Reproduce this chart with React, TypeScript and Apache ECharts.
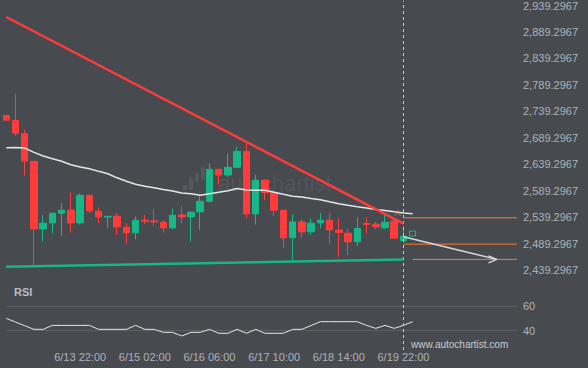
import React, { useEffect, useRef } from 'react';
import * as echarts from 'echarts';

// ---- Data ----
const opens = [2731.7, 2722.2, 2697.2, 2645.1, 2517.6, 2528.9, 2547.2, 2552.8, 2528.9, 2581.1, 2550.9, 2539.8, 2541.5, 2520.8, 2510.1, 2534.0, 2532.7, 2530.2, 2519.5, 2544.0, 2540.2, 2549.6, 2569.8, 2630.0, 2619.3, 2633.8, 2663.9, 2545.9, 2609.3, 2586.1, 2552.8, 2500.7, 2530.8, 2512.0, 2528.9, 2534.0, 2515.2, 2509.5, 2493.1, 2527.8, 2526.5, 2519.5, 2532.1, 2495.0];
const closes = [2722.8, 2698.3, 2645.6, 2517.6, 2528.3, 2547.2, 2552.8, 2528.9, 2581.1, 2551.5, 2540.2, 2541.3, 2521.4, 2510.1, 2534.0, 2532.1, 2530.8, 2519.5, 2543.4, 2540.2, 2549.0, 2569.8, 2630.0, 2619.3, 2633.8, 2663.9, 2545.9, 2609.3, 2586.1, 2552.8, 2500.7, 2530.8, 2512.0, 2528.3, 2534.0, 2515.7, 2510.8, 2493.1, 2518.4, 2525.9, 2521.4, 2530.2, 2500.1, 2503.9];
const lows = [2722.0, 2692.7, 2618.1, 2446.1, 2493.9, 2509.0, 2504.4, 2510.8, 2525.9, 2547.7, 2528.3, 2519.5, 2506.3, 2489.4, 2497.7, 2526.5, 2523.3, 2510.8, 2516.5, 2528.3, 2493.9, 2515.7, 2567.3, 2601.2, 2614.9, 2633.0, 2537.2, 2525.9, 2571.6, 2542.1, 2481.8, 2455.5, 2500.7, 2506.3, 2518.4, 2489.4, 2464.9, 2468.1, 2484.5, 2509.0, 2517.0, 2517.0, 2498.8, 2495.0];
const highs = [2732.0, 2772.5, 2704.7, 2646.0, 2543.4, 2547.5, 2566.0, 2586.1, 2584.3, 2581.5, 2557.9, 2541.5, 2547.2, 2528.3, 2541.0, 2543.4, 2554.1, 2534.0, 2556.0, 2560.3, 2550.4, 2581.1, 2641.3, 2630.5, 2659.6, 2672.7, 2681.4, 2620.0, 2610.0, 2586.5, 2553.0, 2545.3, 2535.9, 2537.2, 2547.2, 2548.5, 2537.2, 2518.4, 2539.1, 2539.1, 2531.5, 2543.4, 2537.8, 2522.0];
// forming candle (open, close, low, high)
const formingCandle = [2504.4, 2513.3, 2504.4, 2513.3];

const maValues = [2670.8, 2671.4, 2670.1, 2662.0, 2655.2, 2650.0, 2645.2, 2638.7, 2634.3, 2631.1, 2626.2, 2621.7, 2614.0, 2607.4, 2601.8, 2598.0, 2595.2, 2592.0, 2589.0, 2585.2, 2584.1, 2581.1, 2583.9, 2586.7, 2589.5, 2593.7, 2591.2, 2590.5, 2590.5, 2586.7, 2582.9, 2579.2, 2577.7, 2574.8, 2572.6, 2568.8, 2565.1, 2562.2, 2559.4, 2557.1, 2554.1, 2552.3, 2549.8, 2547.7, 2546.0];

const rsiValues = [50, 47, 44, 41.1, 41.1, 44.3, 44.3, 44.3, 44.3, 44.3, 41.1, 41.1, 41.1, 41.1, 44.3, 41.1, 41.1, 38.7, 38.7, 35.7, 38.7, 38.7, 41.1, 37.9, 37.9, 41.1, 37.9, 41.1, 37.9, 37.9, 37.9, 41.1, 41.1, 44.2, 47.3, 47.3, 47.3, 47.3, 47.3, 44.3, 41.9, 44.3, 41.9, 44.3, 47.3];

const resistanceEnds = [2917.6, 2527.4];
const supportEnds = [2446.1, 2459.6];
const keyLevels = [2538.5, 2488.8];
const targetLevel = 2460.0;
const arrowStart = 2502.6;
const arrowEndIndex = 53.1;

const xLabelIndices = [8, 15, 22, 29, 36, 43];
const xLabels = ['6/13 22:00', '6/15 02:00', '6/16 06:00', '6/17 10:00', '6/18 14:00', '6/19 22:00'];
const yTicks = [2439.2967, 2489.2967, 2539.2967, 2589.2967, 2639.2967, 2689.2967, 2739.2967, 2789.2967, 2839.2967, 2889.2967, 2939.2967];
const rsiTicks = [40, 60];

// ---- Styles ----
const BG = '#474a4f';
const RED = '#ff3c3c';
const GREEN = '#17b787';
const ORANGE = '#ff7a2c';
const LABEL = '#aeb2b7';
const FONT = '"Liberation Sans", Arial, sans-serif';

function fmtPrice(v: number): string {
  const [i, d] = v.toFixed(4).split('.');
  return i.replace(/\B(?=(\d{3})+(?!\d))/g, ',') + '.' + d;
}

export default function App() {
  const ref = useRef<HTMLDivElement>(null);

  useEffect(() => {
    if (!ref.current) return;
    const chart = echarts.init(ref.current, null, { renderer: 'svg' });
    const N = opens.length;
    const last = N - 1;
    const xMin = 0.08;
    const xMax = 55.29;
    const pxPerUnit = 265.6 / 500;
    const yMax = 2939.2967 + 4.7 / pxPerUnit;
    const yMin = 2439.2967 - 19.7 / pxPerUnit;

    const candles = opens.map((o, i) => [i, o, closes[i], lows[i], highs[i]]);
    const dashed = {
      symbol: ['none', 'none'],
      silent: true,
      label: { show: false },
      lineStyle: { color: '#c4c7cb', type: [3, 3], width: 1 },
      data: [{ xAxis: last }],
    };
    const plain = (data: number[][], color: string, width: number, z = 5) => ({
      type: 'line',
      xAxisIndex: 0,
      yAxisIndex: 0,
      data,
      symbol: 'none',
      silent: true,
      z,
      lineStyle: { color, width },
    });

    const option: any = {
      animation: false,
      backgroundColor: BG,
      grid: [
        { left: 7, right: 71, top: 0, height: 290 },
        { left: 7, right: 71, top: 290, height: 60 },
      ],
      xAxis: [
        { type: 'value', gridIndex: 0, min: xMin, max: xMax, show: false },
        {
          type: 'value',
          gridIndex: 1,
          min: xMin,
          max: xMax,
          axisLine: { show: false },
          axisTick: { show: false, customValues: xLabelIndices },
          splitLine: { show: false },
          axisLabel: {
            customValues: xLabelIndices,
            formatter: (v: number) => {
              const j = xLabelIndices.indexOf(Math.round(v));
              return j >= 0 ? xLabels[j] : '';
            },
            color: LABEL,
            fontSize: 11,
            fontFamily: FONT,
            margin: 1,
          },
        },
      ],
      yAxis: [
        {
          type: 'value',
          gridIndex: 0,
          position: 'right',
          min: yMin,
          max: yMax,
          axisLine: { show: false },
          axisTick: { show: false, customValues: yTicks },
          splitLine: { show: false },
          axisLabel: {
            customValues: yTicks,
            formatter: (v: number) => fmtPrice(v),
            color: LABEL,
            fontSize: 11,
            fontFamily: FONT,
            margin: 6,
          },
        },
        {
          type: 'value',
          gridIndex: 1,
          position: 'right',
          min: 24.37,
          max: 72.96,
          axisLine: { show: false },
          axisTick: { show: false, customValues: rsiTicks },
          splitLine: { show: true, lineStyle: { color: '#5c6065', width: 1 } },
          axisLabel: {
            customValues: rsiTicks,
            color: LABEL,
            fontSize: 11,
            fontFamily: FONT,
            margin: 6,
          },
        },
      ],
      graphic: [
        {
          type: 'text',
          left: 218,
          top: 172,
          z: 0,
          silent: true,
          style: { text: 'autochartist', fill: 'rgba(255,255,255,0.07)', font: `22px ${FONT}` },
        },
        { type: 'rect', z: 0, silent: true, shape: { x: 183, y: 185, width: 4, height: 5, r: 1 }, style: { fill: 'rgba(255,255,255,0.08)' } },
        { type: 'rect', z: 0, silent: true, shape: { x: 189, y: 177.5, width: 4, height: 12.5, r: 1 }, style: { fill: 'rgba(255,255,255,0.08)' } },
        { type: 'rect', z: 0, silent: true, shape: { x: 195, y: 173, width: 4, height: 9, r: 1 }, style: { fill: 'rgba(255,255,255,0.08)' } },
        { type: 'rect', z: 0, silent: true, shape: { x: 201, y: 167, width: 4, height: 13, r: 1 }, style: { fill: 'rgba(255,255,255,0.08)' } },
        {
          type: 'text',
          left: 14,
          top: 286,
          style: { text: 'RSI', fill: '#b9bdc2', font: `bold 11px ${FONT}` },
        },
        {
          type: 'text',
          left: 411,
          top: 339,
          style: { text: 'www.autochartist.com', fill: '#c9ccd0', font: `10px ${FONT}` },
        },
      ],
      series: [
        {
          type: 'candlestick',
          xAxisIndex: 0,
          yAxisIndex: 0,
          data: candles,
          encode: { x: 0, y: [1, 2, 3, 4] },
          barWidth: 7,
          z: 3,
          itemStyle: { color: GREEN, color0: RED, borderColor: GREEN, borderColor0: RED, borderWidth: 1 },
          markLine: dashed,
        },
        {
          type: 'candlestick',
          xAxisIndex: 0,
          yAxisIndex: 0,
          data: [[N, ...formingCandle]],
          encode: { x: 0, y: [1, 2, 3, 4] },
          barWidth: 6,
          z: 3,
          itemStyle: { color: 'rgba(0,0,0,0)', color0: 'rgba(0,0,0,0)', borderColor: GREEN, borderColor0: GREEN, borderWidth: 1 },
        },
        plain(maValues.map((v, i) => [i, v]), '#e6e6e6', 1.5, 4),
        plain([[0, resistanceEnds[0]], [last, resistanceEnds[1]]], RED, 2.5, 6),
        plain([[0, supportEnds[0]], [last, supportEnds[1]]], GREEN, 2.5, 6),
        ...keyLevels.map((lv) => plain([[last, lv], [xMax, lv]], ORANGE, 1, 5)),
        plain([[N, targetLevel], [xMax, targetLevel]], ORANGE, 1, 5),
        plain([[last, arrowStart], [arrowEndIndex, targetLevel]], '#d8d8d8', 1.5, 7),
        plain([[arrowEndIndex - 0.9, targetLevel + 6.6], [arrowEndIndex, targetLevel], [arrowEndIndex - 0.9, targetLevel - 6.6]], '#d8d8d8', 1.2, 7),
        {
          type: 'scatter',
          xAxisIndex: 0,
          yAxisIndex: 0,
          data: [[42.35, 2547.1]],
          symbolSize: 1,
          itemStyle: { color: 'rgba(0,0,0,0)' },
          silent: true,
          z: 8,
          label: { show: true, position: 'inside', formatter: 'A', color: '#e8824c', fontSize: 9, fontFamily: FONT },
        },
        {
          type: 'line',
          xAxisIndex: 1,
          yAxisIndex: 1,
          data: rsiValues.map((v, i) => [i, v]),
          symbol: 'none',
          silent: true,
          lineStyle: { color: '#e6e6e6', width: 1 },
          markLine: dashed,
        },
      ],
    };
    chart.setOption(option);
    return () => chart.dispose();
  }, []);

  return <div ref={ref} style={{ position: 'fixed', left: 0, top: 0, width: 588, height: 368 }} />;
}
